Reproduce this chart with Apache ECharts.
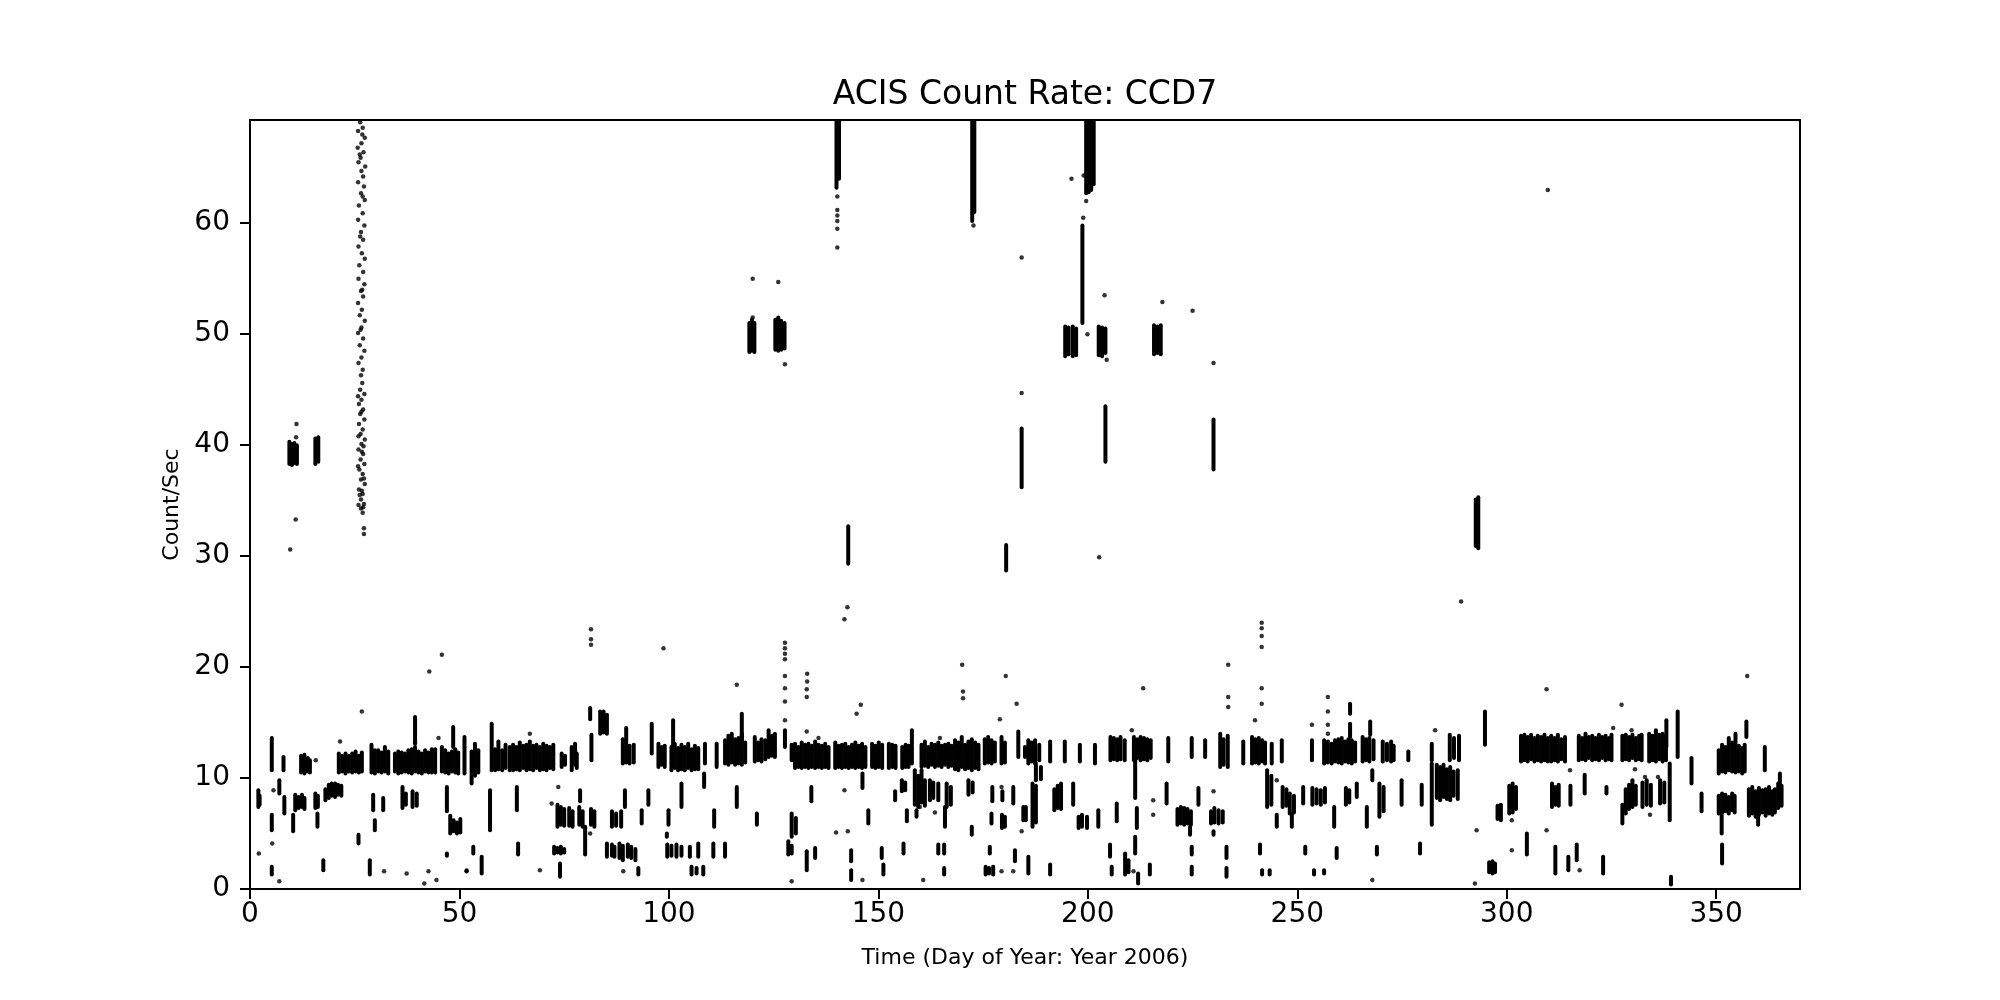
<!DOCTYPE html>
<html>
<head>
<meta charset="utf-8">
<script src="https://cdn.jsdelivr.net/npm/echarts@6/dist/echarts.min.js"></script>
<style>html,body{margin:0;padding:0;background:#fff}#c{width:2000px;height:1000px}</style>
</head>
<body>
<div id="c"></div>
<script>
// ---- tick labels ----
const xTicks = [0, 50, 100, 150, 200, 250, 300, 350];
const yTicks = [0, 10, 20, 30, 40, 50, 60];

// ---- observed runs of samples: [day, lowest count/sec, highest count/sec] ----
const runsDays0to62 = [
 [2,7.4,8.9],[2.3,7.6,8.4],[5.2,10.7,13.6],[5.2,5.3,6.7],[5.2,1.3,2.0],[7,8.6,9.8],[8,10.7,11.9],[8.2,6.8,8.3],
 [10.3,5.2,6.7],[10.8,7.1,8.5],[11.6,7.3,8.3],[12.4,7.4,8.5],[13.0,7.2,8.2],[12.2,10.5,12.0],[13.0,10.4,12.1],[13.8,10.6,11.8],[14.3,10.5,11.6],
 [15.6,7.3,8.6],[16.2,7.4,8.4],[16.1,5.6,6.8],[17.5,1.7,2.6],[18.0,8.0,9.0],[18.8,8.2,9.4],[19.5,8.4,9.5],[20.3,8.3,9.5],[21.0,8.5,9.4],[21.8,8.4,9.3],
 [21.2,10.5,12.2],[22.0,10.6,12.0],[22.8,10.4,12.2],[23.6,10.6,12.0],[24.4,10.5,12.2],[25.2,10.6,12.4],[26.0,10.5,12.0],[26.7,10.6,12.3],
 [25.9,4.1,4.9],[28.6,1.3,2.6],[29.0,10.5,13.0],[29.8,10.4,12.5],[30.6,10.6,12.5],[31.4,10.5,12.3],[32.2,10.6,12.8],
 [29.4,7.1,8.5],[31.8,7.1,8.2],[29.8,5.3,6.2],
 [33.0,10.4,12.4],[34.6,10.6,12.2],[35.4,10.4,12.4],[36.2,10.5,12.3],[37.0,10.6,12.2],[37.8,10.5,12.5],[38.6,10.4,12.6],[39.4,10.6,12.8],[40.2,10.5,12.4],[41.0,10.4,12.2],[41.8,10.6,12.5],[42.6,10.5,12.3],[43.4,10.5,12.6],
 [36.4,7.3,9.2],[37.2,7.6,8.6],[38.8,7.4,8.8],[39.8,7.5,8.6],[39.4,13.1,15.5],
 [44.2,10.5,12.6],[45.8,10.6,12.8],[46.6,10.5,12.5],[47.4,10.4,12.2],[48.2,10.6,12.4],[49.0,10.5,12.6],[49.7,10.4,12.3],[48.5,12.8,14.6],
 [47.0,7.0,9.2],[47.8,5.0,6.6],[48.6,5.2,6.2],[49.4,5.0,6.0],[50.2,5.1,6.3],[47.0,3.0,3.2],
 [51.2,10.4,13.7],[51.7,1.6,1.7],[52.9,9.5,12.4],[53.7,10.2,13.1],[54.5,10.5,12.5],[53.3,3.2,3.8],[55.3,1.4,2.9],[57.3,5.3,8.9],[57.7,10.7,14.9],
 [58.5,10.7,12.6],[59.3,10.8,13.3],[60.2,10.7,12.5],[61.0,10.9,13.0],[62.0,10.7,12.8]
];
const runsDays60to123 = [
 [62.8,10.7,13.0],[63.6,10.8,12.8],[64.4,10.7,13.2],[65.2,10.9,12.9],[66.0,10.7,13.0],[66.8,10.8,13.3],[67.6,10.7,12.9],[68.4,10.9,13.0],[69.2,10.7,12.8],[70.0,10.8,13.1],[70.8,10.7,12.9],[71.6,10.9,12.8],[72.4,10.8,13.0],
 [63.7,7.1,9.2],[64.0,3.1,4.1],[72.6,3.2,3.8],[73.4,3.3,3.7],[74.2,3.2,3.8],[75.0,3.3,3.6],[74.0,1.1,2.3],[73.4,5.6,7.6],[74.2,5.8,7.4],[75.0,5.7,7.2],
 [74.4,11.0,12.2],[75.2,11.2,12.0],[76.8,10.7,12.8],[77.6,11.2,13.1],[78.0,10.9,12.2],
 [76.2,5.7,7.3],[77.0,5.6,7.0],[78.8,7.9,8.9],[78.6,5.8,7.4],[79.4,5.6,7.0],[80.0,3.1,5.6],[81.4,5.8,7.2],[82.2,5.6,7.0],
 [81.2,15.3,16.3],[81.5,11.6,13.9],[83.6,14.0,16.0],[84.4,14.1,16.0],[85.2,14.0,15.7],
 [85.2,2.9,4.1],[86.4,3.0,4.0],[87.0,2.9,3.8],[88.2,2.8,4.1],[89.0,2.6,3.9],[90.2,2.9,4.0],[91.0,2.8,3.8],[92.0,2.6,3.6],
 [86.4,5.6,7.0],[87.4,5.7,6.8],[88.6,5.6,7.0],[89.5,7.4,8.9],[89.0,11.3,13.5],[89.8,11.4,14.5],[90.6,11.3,12.9],[91.6,11.4,13.0],
 [92.7,1.3,1.9],[93.5,5.9,7.1],[95.1,7.6,8.9],[95.9,12.2,14.9],[97.5,11.0,13.1],[98.3,11.2,12.8],[99.0,11.0,12.9],
 [99.9,5.8,7.1],[99.5,4.7,5.0],[99.6,2.9,4.0],[100.6,3.0,3.9],[101.8,2.9,4.0],[103.0,3.0,3.8],
 [101.0,12.8,15.2],[100.6,10.7,12.8],[101.4,10.9,13.1],[102.2,10.7,12.7],[103.0,10.8,13.0],[103.8,10.7,12.8],[104.6,10.9,13.1],[105.4,10.7,12.6],[106.2,10.8,12.9],[107.0,10.8,12.7],
 [103.0,7.4,9.5],[105.4,1.3,2.0],[106.6,1.4,1.9],[108.2,1.3,2.0],[105.0,2.9,3.8],[107.0,2.9,4.1],[110.6,2.9,4.1],[113.4,2.9,4.1],
 [108.4,9.2,10.4],[108.6,11.3,13.1],[110.8,5.6,7.1],[111.4,11.0,13.1],
 [113.4,11.3,13.4],[114.2,11.2,13.8],[115.0,11.4,14.0],[115.8,11.2,13.5],[116.6,11.3,13.6],[117.4,11.2,14.0],[118.2,11.4,13.2],
 [117.4,13.1,15.8],[116.2,7.4,9.2],[121.0,5.8,6.8],[120.5,11.5,13.7],[121.3,11.6,13.2],[122.1,11.5,13.5],[123.0,11.7,13.4]
];
const runsDays123to185 = [
 [123.8,11.9,14.3],[124.6,12.0,13.8],[125.3,11.9,14.0],[127.7,12.8,14.3],
 [129.3,11.6,13.0],[130.1,10.9,13.1],[130.9,11.0,12.8],[131.7,10.9,13.2],[132.5,11.0,13.0],[133.3,10.9,13.1],[134.1,11.0,12.9],[134.9,10.9,13.3],[135.7,11.0,13.0],[136.5,10.9,12.9],[137.3,11.0,13.1],[138.1,10.9,12.8],
 [139.7,10.9,13.2],[140.5,11.0,12.9],[141.3,10.9,13.0],[142.1,11.0,13.1],[142.9,10.9,12.8],[143.7,11.0,13.0],[144.5,10.9,13.2],[145.3,11.0,12.9],[146.1,10.9,13.1],[146.9,11.0,12.8],
 [148.5,11.0,13.1],[149.3,10.9,12.9],[150.1,11.0,13.2],[150.9,10.9,13.0],[152.5,10.9,13.1],[153.3,11.0,13.0],[154.1,10.9,12.9],[155.7,10.9,12.8],[156.5,11.0,13.0],[157.2,11.0,12.9],
 [129.3,4.7,6.8],[130.3,5.0,6.4],[128.5,3.1,4.3],[129.3,3.2,3.9],[132.9,1.7,3.4],[134.9,2.8,3.7],[134.0,7.9,9.2],
 [143.5,2.5,3.5],[143.5,0.8,1.7],[146.2,9.1,10.4],[147.6,5.9,7.1],[150.8,2.8,3.7],[151.2,1.3,2.2],[154.0,8.0,8.8],[155.6,8.8,9.8],[156.4,8.9,9.6],[156.0,3.2,4.1],[156.8,6.1,7.1],
 [158.0,11.3,14.3],[158.7,7.6,10.7],[159.5,7.4,10.2],[160.3,7.8,10.7],[161.1,7.5,9.8],[159.1,6.5,7.1],
 [160.3,11.0,13.0],[161.1,11.1,13.3],[161.9,11.0,12.8],[162.7,11.2,13.1],[163.5,11.0,13.0],[164.3,11.1,13.2],[165.1,11.0,12.9],[165.9,11.2,13.0],[166.7,11.0,13.1],[167.5,11.1,12.9],
 [162.3,8.0,9.8],[163.1,8.2,9.6],[164.3,8.0,9.5],[164.3,3.2,4.0],[165.7,3.2,4.0],[165.9,5.6,7.4],[166.3,7.4,9.5],[167.3,7.6,9.2],[165.7,1.3,1.9],
 [168.3,10.8,13.4],[169.1,10.7,13.2],[169.9,11.0,13.7],[170.7,10.8,13.0],[171.5,10.9,13.3],[172.3,10.7,13.5],[173.1,10.9,13.2],[173.9,10.8,13.0],
 [171.5,8.5,9.8],[172.5,8.7,9.6],[172.3,4.9,5.6],
 [175.4,11.3,13.5],[176.2,11.4,13.7],[177.0,11.3,13.4],[177.8,11.5,13.2],
 [176.6,3.2,3.8],[175.6,1.3,2.0],[176.4,1.4,1.9],[177.4,1.3,2.0],[177.2,7.9,9.2],[179.6,8.0,8.8],
 [177.0,5.9,6.8],[179.5,5.5,6.7],[180.2,5.6,6.5],[182.6,2.5,3.5],
 [179.4,11.3,13.7],[180.2,11.4,13.2],[182.2,7.7,9.2],[183.4,11.9,14.2],[185.0,11.9,12.8],[184.6,6.2,7.4]
];
const runsDays185to248 = [
 [185.8,11.3,13.4],[186.6,11.5,13.2],[187.4,11.3,13.4],[188.4,11.6,13.0],[187.6,9.8,11.3],[188.8,9.9,11.0],
 [186.8,5.6,9.5],[187.6,6.0,9.3],[185.2,6.2,7.4],[185.8,1.4,2.9],
 [191.0,11.5,13.3],[191.0,1.3,2.2],[192.0,7.1,9.0],[192.8,7.3,9.3],[193.6,7.2,9.5],[194.5,11.5,13.3],[196.5,7.6,9.5],
 [197.8,5.5,6.5],[198.6,5.6,6.7],[199.8,5.5,6.5],[198.1,11.5,13.0],[201.7,11.3,13.0],[202.5,5.6,7.1],[205.3,2.9,4.0],[205.7,1.3,2.0],
 [205.4,11.6,13.7],[206.2,11.7,13.6],[207.0,11.6,13.5],[207.8,11.7,13.7],[208.8,11.6,13.4],
 [206.9,6.1,7.7],[208.9,1.3,3.2],[209.7,1.5,2.6],
 [211.0,11.6,13.7],[211.8,11.8,13.5],[212.6,11.6,13.7],[213.4,11.7,13.6],[214.2,11.6,13.5],[215.0,11.8,13.4],
 [211.3,8.2,11.6],[211.7,5.5,7.3],[211.3,3.2,4.7],[212.0,0.5,1.4],[214.8,1.3,2.2],
 [218.8,7.7,9.5],[219.2,11.5,13.6],
 [221.4,5.8,7.2],[222.2,5.9,7.4],[223.0,5.8,7.3],[223.8,5.9,7.2],[224.6,5.8,7.0],
 [224.4,4.9,5.6],[224.8,3.1,3.8],[224.8,1.3,2.0],[224.8,11.9,13.6],[228.0,11.9,13.4],[226.4,7.6,9.1],
 [229.4,5.9,7.0],[230.2,6.0,7.3],[231.2,5.9,7.1],[232.2,6.0,7.0],[230.0,4.9,5.2],
 [231.6,11.0,14.0],[232.4,11.2,13.5],[233.4,11.0,13.8],[233.1,2.8,3.8],[233.1,1.1,1.9],
 [237.1,11.3,13.3],[239.2,11.3,13.7],[240.0,11.4,13.5],[240.8,11.3,13.6],[241.6,11.5,13.4],[242.3,11.3,13.2],
 [241.1,3.2,4.0],[241.6,1.3,1.7],[243.4,1.3,1.7],[242.8,7.4,10.7],[243.8,7.6,10.2],[243.9,11.3,13.1],
 [245.1,5.6,6.7],[246.3,11.5,13.4],[246.5,7.4,9.2],[247.4,7.5,9.0]
];
const runsDays247to310 = [
 [248.2,6.8,8.6],[249.2,6.9,8.4],[248.7,5.6,6.8],[251.9,3.2,3.8],[251.4,7.7,9.2],[253.5,11.6,13.4],
 [253.6,7.6,9.1],[254.6,7.7,9.0],[255.6,7.6,8.9],[256.6,7.8,9.1],[254.0,1.3,1.7],[256.4,1.4,1.7],
 [256.4,11.3,13.4],[257.3,11.4,13.3],[258.2,11.3,13.1],[259.0,11.5,13.4],[258.8,5.6,7.4],[259.4,2.8,3.7],
 [259.8,11.4,13.5],[260.6,11.3,13.6],[261.4,11.5,13.3],[262.2,11.4,13.5],[263.0,11.3,13.4],[263.8,11.5,13.2],
 [262.6,15.8,16.7],[262.6,13.7,14.9],[261.6,7.6,9.1],[262.4,7.8,8.9],[264.2,8.3,9.5],
 [265.6,11.5,13.7],[266.4,11.6,13.5],[267.2,11.5,13.6],[268.2,11.7,13.4],[267.4,13.9,15.1],
 [266.6,5.6,7.4],[267.9,9.8,10.7],[269.0,3.1,3.8],[269.6,6.5,9.5],[270.6,7.0,9.2],
 [270.4,11.5,13.3],[271.4,11.6,13.1],[272.4,11.5,13.3],[273.0,11.6,12.9],
 [274.9,7.6,9.8],[276.5,11.6,12.4],[279.3,3.2,4.1],[279.7,7.6,9.4],
 [282.1,11.6,13.1],[282.1,5.8,11.3],[283.3,8.2,11.2],[284.1,8.0,11.0],[284.9,8.3,11.2],[285.7,8.1,10.8],[286.5,8.0,11.0],[287.3,8.4,10.6],[288.3,8.1,10.7],
 [286.4,11.6,13.9],[287.4,11.8,13.6],[288.6,11.6,13.8],
 [294.8,13.0,16.0],[295.8,1.5,2.4],[296.6,1.4,2.5],[297.2,1.5,2.3],[297.8,6.3,7.5],[298.6,6.2,7.6],
 [300.6,6.8,9.3],[301.4,6.9,9.5],[302.2,7.2,9.2],[304.8,3.1,5.0],
 [303.4,11.5,13.8],[304.2,11.6,13.9],[305.0,11.5,13.7],[305.8,11.7,13.9],[306.6,11.5,13.6],[307.4,11.6,13.8],[308.2,11.5,13.7],[309.0,11.6,13.9],[309.8,11.5,13.6]
];
const runsDays309to370 = [
 [310.6,11.5,13.8],[311.4,11.6,13.6],[312.2,11.5,13.9],[313.0,11.7,13.5],[313.9,11.5,13.7],
 [310.8,7.4,9.5],[311.6,7.6,9.2],[312.4,7.5,9.4],[315.2,7.6,9.3],[311.6,1.4,3.8],[314.7,1.7,2.9],[316.7,2.6,4.0],
 [317.2,11.6,13.8],[318.0,11.7,13.6],[318.8,11.6,14.0],[319.6,11.8,13.7],[320.4,11.6,13.8],[321.2,11.7,13.6],[322.0,11.6,13.9],[322.8,11.8,13.7],[323.6,11.6,13.8],[324.4,11.7,13.6],[325.0,11.6,13.9],
 [318.6,8.6,10.3],[323.0,1.4,2.9],[323.8,8.6,9.2],
 [327.6,11.6,13.8],[328.4,11.7,13.9],[329.2,11.6,13.7],[330.0,11.8,13.9],[330.8,11.6,13.6],[331.6,11.7,13.8],[332.2,11.6,13.9],
 [327.6,5.9,7.6],[328.4,6.8,9.0],[329.2,7.2,9.4],[330.0,7.4,9.8],[330.8,7.6,9.3],
 [332.4,7.4,9.6],[333.4,7.6,9.8],[334.4,7.5,9.4],
 [334.0,11.5,14.0],[334.8,11.6,13.8],[335.6,11.5,14.3],[336.4,11.7,13.9],[337.2,11.5,14.0],[338.0,11.6,13.8],
 [336.6,7.7,9.8],[337.6,7.8,9.6],[338.9,6.2,11.3],[339.2,0.4,1.1],[338.1,12.8,15.2],[340.8,11.9,16.0],
 [344.1,9.5,11.8],[346.5,7.0,8.6],
 [350.6,6.8,8.4],[351.4,6.9,8.6],[352.2,7.0,8.5],[353.0,6.8,8.3],[353.8,7.1,8.6],[354.4,6.9,8.4],[351.3,5.0,6.8],[351.4,2.3,4.0],
 [350.6,10.4,12.5],[351.4,10.6,13.0],[352.2,10.5,12.8],[353.0,10.7,13.6],[353.8,10.6,13.2],[354.6,10.5,14.0],[355.4,10.6,12.9],[356.2,10.4,12.7],[356.8,10.6,13.0],
 [357.2,13.7,15.1],
 [357.8,6.6,9.0],[358.6,6.8,9.2],[359.4,6.5,8.8],[360.2,6.7,9.1],[361.0,6.9,8.9],[361.8,6.6,9.0],[362.6,6.8,9.2],[363.4,6.7,8.8],[364.0,6.9,9.0],
 [360.0,5.8,7.4],[361.6,10.7,12.8],[365.2,8.9,10.4],[364.8,7.3,9.5],[365.6,7.5,9.3]
];
const runsHighRate = [
 [9.4,38.3,40.3],[10.0,38.2,40.1],[10.6,38.4,40.2],[11.2,38.3,40.0],[15.6,38.3,40.6],[16.3,38.5,40.7],
 [119.2,48.4,51.0],[119.8,48.5,51.3],[120.4,48.4,51.0],
 [125.4,48.6,51.3],[126.1,48.5,51.5],[126.8,48.6,51.2],[127.6,48.7,51.0],
 [140.0,63.2,69.3],[140.6,64.0,69.3],[142.8,29.3,32.7],
 [172.4,60.2,69.3],[172.9,61.0,69.3],[184.2,36.2,41.5],[180.5,28.7,31.0],
 [199.6,62.7,69.3],[200.2,62.8,69.3],[200.8,63.0,69.3],[201.4,63.5,69.3],[198.7,51.0,59.8],
 [194.6,48.0,50.7],[195.4,48.2,50.6],[196.4,48.0,50.7],[197.2,48.1,50.5],
 [202.6,48.1,50.7],[203.4,48.0,50.6],[204.2,48.3,50.5],[204.2,38.5,43.5],
 [215.8,48.2,50.8],[216.6,48.3,50.7],[217.4,48.2,50.8],
 [230.0,37.8,42.3],[292.6,30.9,35.1],[293.2,30.7,35.3]
];
// ---- isolated samples: [day, count/sec] ----
const isolatedPoints = [
 [2.1,3.2],[5.6,8.9],[5.3,4.1],[7,0.7],[15.7,11.6],[21.5,13.3],[26.7,16.0],[32,1.6],[37.4,1.4],[41.6,0.5],[42.6,1.6],[44.5,0.8],[45.0,13.6],
 [39.4,13.2],[51.7,1.6],[69.2,1.7],[72.0,7.7],[73.6,9.2],[81.2,5.0],[66.8,14.0],[89.1,1.6],[116.2,18.4],
 [127.7,15.2],[127.7,16.9],[127.7,18.1],[127.7,19.2],[127.7,20.7],[127.7,21.2],[127.7,21.7],[127.7,22.2],
 [132.9,17.3],[132.9,18.0],[133,18.7],[133,19.4],[132.9,14.2],[135.7,13.6],[129.3,0.7],
 [139.9,5.1],[142.7,5.2],[141.9,8.9],[144.8,15.8],[145.8,16.6],[146.2,0.8],[159.9,7.4],[160.7,0.8],[164.7,13.6],[163.5,6.9],
 [170.2,17.2],[170.2,17.8],[170,20.2],[179.4,9.2],[179,15.3],[183,16.7],[179.4,1.6],[182.2,1.6],[184.2,5.2],[180.4,19.2],
 [210.5,14.3],[210.9,1.6],[213.2,18.1],[215.6,8.0],[215.6,6.7],[230.0,8.8],[233.5,16.4],[233.5,17.3],[239.9,15.2],[241.5,18.1],[241.5,16.7],[245.1,9.8],
 [253.5,14.8],[257.3,17.3],[257.3,16.0],[257.3,14.8],[257.3,14.0],[267.9,0.8],[282.9,14.3],[292.8,5.3],[292.4,0.5],[301.2,6.2],[301.2,3.5],
 [309.5,18.0],[309.5,5.3],[317.4,1.7],[315.1,10.7],[325.4,14.5],[327.4,16.6],[329.8,14.3],[330.6,10.8],[333.0,10.1],[336.1,10.1],[334.2,6.7],[357.4,19.2],
 [9.6,30.6],[10.9,33.3],[11.1,41.9],[11.0,40.7],[27.2,32.5],[27.2,32.0],[42.8,19.6],[45.8,21.1],[81.4,23.4],[81.4,22.5],[81.4,22.0],[98.7,21.7],
 [120.0,55.0],[120.0,51.5],[126.1,54.7],[127.7,47.3],
 [140.2,62.4],[140.2,61.2],[140.2,60.7],[140.2,60.2],[140.2,59.5],[140.2,57.8],[142.6,25.4],[141.9,24.3],[172.7,59.8],
 [184.2,56.9],[184.2,44.7],[196.1,64.0],[199.0,64.3],[199.6,62.0],[198.9,60.5],[199.9,50.0],[204.0,53.5],[204.5,47.7],[202.7,29.9],
 [217.8,52.9],[225.0,52.1],[230.0,47.4],[233.5,20.2],[241.5,24.0],[241.5,23.5],[241.5,22.8],[241.5,21.8],
 [309.8,63.0],[289.1,25.9]
];
// ---- the flare on day ~26: [day, count/sec] ----
const flareDay26 = [
 [26.3,69.1],[26.9,68.6],[25.8,68.3],[27.4,67.7],[26.6,67.2],[25.7,66.8],[27.1,66.4],[26.4,65.9],[25.9,65.5],[27.5,65.1],[26.6,64.7],[27.0,64.2],[25.8,63.7],[27.2,63.3],
 [26.5,62.7],[27.4,62.1],[26.0,61.6],[26.9,60.9],[25.8,60.3],[27.3,59.8],[26.5,59.2],[27.0,58.5],[25.9,57.9],[26.7,57.3],[27.4,56.8],[26.1,56.2],[27.0,55.6],[25.9,55.0],
 [27.3,54.5],[26.5,53.9],[27.0,53.4],[25.8,52.8],[26.7,52.2],[26.2,51.7],[27.4,51.2],[26.6,50.6],[25.8,50.1],[27.0,49.6],[26.2,49.0],[27.3,48.5],[26.6,47.9],[25.9,47.4],
 [26.9,46.8],[26.5,46.3],[26.3,45.0],[27.3,44.6],[25.8,44.4],[26.6,44.1],[26.0,43.7],[27.0,43.2],[26.6,43.0],[26.3,42.8],[27.3,42.3],[26.0,41.9],[26.9,41.4],[26.4,41.0],
 [25.9,40.8],[27.4,40.5],[26.6,40.1],[27.1,39.9],[25.9,39.6],[27.0,39.2],[26.4,38.7],[27.3,38.3],[25.8,38.1],[26.1,37.8],[26.9,37.4],[27.2,37.0],[26.5,36.9],[27.4,36.5],
 [26.0,36.0],[26.9,35.6],[26.2,35.5],[26.5,35.1],[27.2,34.7],[25.9,34.6],[27.0,34.4],[26.5,34.3],[26.9,33.9],
 [26.8,68.0],[26.2,66.2],[26.9,62.4],[26.3,58.8],[26.8,54.0],[26.4,50.4],[26.8,45.6],[26.7,39.4],[26.7,35.9]
];

const allRuns = [].concat(runsDays0to62, runsDays60to123, runsDays123to185, runsDays185to248, runsDays247to310, runsDays309to370, runsHighRate);
const allPoints = [].concat(isolatedPoints, flareDay26);

const FONT = 'DejaVu Sans';
const chart = echarts.init(document.getElementById('c'), null, { renderer: 'canvas' });
chart.setOption({
  animation: false,
  backgroundColor: '#ffffff',
  graphic: [{
    type: 'text', x: 1025, y: 95, silent: true,
    style: {
      text: 'ACIS Count Rate: CCD7', fill: '#000',
      font: 'normal 33px "DejaVu Sans"',
      fontFamily: FONT, fontSize: 33,
      textAlign: 'center', textVerticalAlign: 'middle',
      align: 'center', verticalAlign: 'middle'
    }
  }],
  grid: { left: 250, right: 200, top: 120, bottom: 111, show: true, borderColor: '#000', borderWidth: 2, backgroundColor: 'transparent' },
  xAxis: {
    type: 'value', min: 0, max: 370,
    name: 'Time (Day of Year: Year 2006)', nameLocation: 'middle', nameGap: 58,
    nameTextStyle: { fontFamily: FONT, fontSize: 22, color: '#000' },
    axisLine: { show: true, lineStyle: { color: '#000', width: 2 } },
    axisTick: { show: true, length: 10, lineStyle: { color: '#000', width: 2 }, customValues: xTicks },
    axisLabel: { fontFamily: FONT, fontSize: 28, color: '#000', margin: 12, customValues: xTicks },
    splitLine: { show: false }
  },
  yAxis: {
    type: 'value', min: 0, max: 69.3,
    name: 'Count/Sec', nameLocation: 'middle', nameGap: 61, nameRotate: 90,
    nameTextStyle: { fontFamily: FONT, fontSize: 22, color: '#000' },
    axisLine: { show: true, lineStyle: { color: '#000', width: 2 } },
    axisTick: { show: true, length: 10, lineStyle: { color: '#000', width: 2 }, customValues: yTicks },
    axisLabel: { fontFamily: FONT, fontSize: 28, color: '#000', margin: 20, customValues: yTicks },
    splitLine: { show: false }
  },
  series: [
    {
      type: 'custom',
      clip: true,
      data: allRuns,
      encode: { x: 0, y: [1, 2] },
      renderItem: function (params, api) {
        const p1 = api.coord([api.value(0), api.value(1)]);
        const p2 = api.coord([api.value(0), api.value(2)]);
        return {
          type: 'line',
          shape: { x1: p1[0], y1: p1[1], x2: p2[0], y2: p2[1] },
          style: { stroke: '#000', lineWidth: 4, lineCap: 'round' }
        };
      }
    },
    {
      type: 'scatter',
      clip: true,
      data: allPoints,
      symbol: 'circle',
      symbolSize: 4.5,
      itemStyle: { color: '#000' }
    }
  ]
});
</script>
</body>
</html>
